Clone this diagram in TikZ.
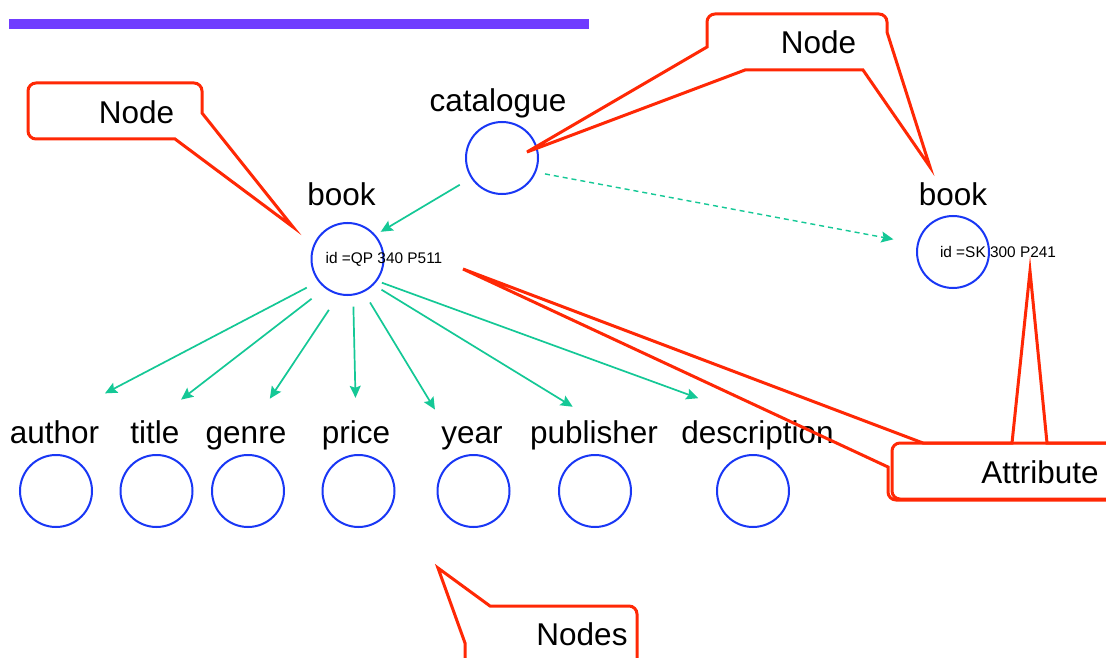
\documentclass[tikz,border=0pt]{standalone}
\usepackage{fontspec}
\setmainfont{Liberation Sans}
\usetikzlibrary{arrows.meta}

\definecolor{nodeblue}{RGB}{25,55,245}
\definecolor{linkgreen}{RGB}{20,200,150}
\definecolor{notered}{RGB}{255,40,5}
\definecolor{barpurple}{RGB}{112,60,255}

\tikzset{enode/.style={circle,draw=nodeblue,line width=2pt,minimum size=72pt,inner sep=0pt,outer sep=0pt},
    elabel/.style={font=\fontsize{31.5}{36}\selectfont,inner sep=0pt,text height=23pt,text depth=6pt,anchor=base},
    eid/.style={font=\fontsize{15.4}{18}\selectfont,inner sep=0pt,anchor=base},
    earrow/.style={linkgreen,line width=1.7pt,-{Stealth[length=12pt,width=11pt,inset=2pt]}},
    enote/.style={notered,line width=3pt}}

\begin{document}
\begin{tikzpicture}[x=1pt,y=-1pt]
        \clip (0,0) rectangle (1106,658);
        \fill[white] (0,0) rectangle (1106,658);
        % bar on top
        \fill[barpurple] (9,19) rectangle (589,29);
        % the element nodes
        \node[enode] (catalogue) at (502,158) {};
        \node[elabel] (catalogue-l) at (498,112) {catalogue};
        \node[enode] (bookL) at (347.5,259) {};
        \node[elabel] (bookL-l) at (341.5,205) {book};
        \node[eid] (bookL-id) at (384,263) {id =QP 340 P511};
        \node[enode] (bookR) at (953,252) {};
        \node[elabel] (bookR-l) at (953,205) {book};
        \node[eid] (bookR-id) at (998,257) {id =SK 300 P241};
        % children of the first book
        \foreach \name/\x/\lx in {author/56/54.5, title/156.5/155, genre/248/246, price/358.5/356,
                year/473.5/472, publisher/595/594, description/753/757.5}{
            \node[enode] (\name-c) at (\x,491) {};
            \node[elabel] (\name) at (\lx,443) {\name};
        }
        % draw the links
        \draw[earrow,shorten <=14pt,shorten >=7pt] (catalogue.213) -- (bookL.41);
        \draw[earrow,line width=1.4pt,dash pattern=on 5pt off 4pt,shorten <=10pt,shorten >=25pt] (catalogue.-23) -- (bookR.167);
        \foreach \name/\a/\s/\t/\e in {author/218/14pt/north/57pt, title/233/18pt/north/33pt,
                genre/257/19pt/center/43pt, price/279/12pt/north/22pt, year/296/13pt/north west/12pt,
                publisher/315/10pt/north/25pt, description/323/6pt/north/63pt}
            \draw[earrow,shorten <=\s,shorten >=\e] (bookL.\a) -- (\name.\t);
        % the notes
        \draw[enote] (202,113) [rounded corners=8pt] -- (202,83) -- (28,83) -- (28,139) [sharp corners] -- (175,139) -- (293,227) -- cycle;
        \node[elabel] (note-book) at (136.5,124) {Node};
        \draw[enote] (887,32) [rounded corners=8pt] -- (887,14) -- (707,14) [sharp corners] -- (707,47) -- (527,152) -- (745,70) -- (863,70) -- (930,167) -- cycle;
        \node[elabel] (note-cat) at (818.5,54) {Node};
        \draw[enote] (923,443) -- (463,269) -- (888,467) [rounded corners=8pt] -- (888,500) -- (1130,500) -- (1130,443) [sharp corners] -- cycle;
        \draw[enote] (1030,271) -- (1012,443) [rounded corners=8pt] -- (892,443) -- (892,499) -- (1130,499) [sharp corners] -- (1130,443) -- (1047,443) -- cycle;
        \node[elabel] (note-attr) at (1040,483) {Attribute};
        \draw[enote] (637,680) [rounded corners=8pt] -- (637,606) [sharp corners] -- (490,606) -- (438,568) -- (465,643) -- (465,680);
        \node[elabel] (note-fields) at (582,645) {Nodes};
\end{tikzpicture}
\end{document}
